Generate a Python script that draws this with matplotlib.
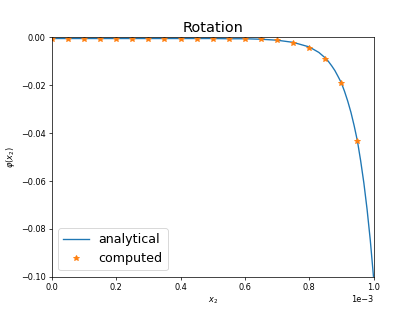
import matplotlib
matplotlib.use("Agg")
import matplotlib.pyplot as plt
import numpy as np

# analytical curve (x in units of 1e-3)
x_analytical = [0.0, 0.1, 0.2, 0.3, 0.4, 0.5, 0.55, 0.6, 0.65, 0.7, 0.75, 0.8,
                0.83, 0.85, 0.86, 0.87, 0.88, 0.89, 0.9, 0.91, 0.92, 0.93,
                0.94, 0.95, 0.96, 0.97, 0.98, 0.99, 1.0]
y_analytical = [-0.0005, -0.0005, -0.0005, -0.0005, -0.0005, -0.0005, -0.0006,
                -0.0006, -0.0008, -0.0012, -0.0021, -0.0040,
                -0.0063, -0.0086, -0.0101, -0.0119, -0.0139, -0.0164, -0.0190,
                -0.0226, -0.0267, -0.0314, -0.0370, -0.0433, -0.0515, -0.0608,
                -0.0718, -0.0847, -0.1000]

# computed points
x_computed = [0.0, 0.05, 0.1, 0.15, 0.2, 0.25, 0.3, 0.35, 0.4, 0.45, 0.5,
              0.55, 0.6, 0.65, 0.7, 0.75, 0.8, 0.85, 0.9, 0.95]
y_computed = [-0.0005, -0.0005, -0.0005, -0.0005, -0.0005, -0.0005, -0.0005,
              -0.0005, -0.0005, -0.0005, -0.0005, -0.0005, -0.0006, -0.0009,
              -0.0012, -0.0022, -0.0044, -0.0089, -0.0189, -0.0433]

scale = 1e-3
fig = plt.figure(figsize=(415/65, 311/65), dpi=65)
ax = fig.add_subplot(111)
ax.plot(np.array(x_analytical) * scale, y_analytical, color="#1f77b4", label="analytical")
ax.plot(np.array(x_computed) * scale, y_computed, "*", color="#ff7f0e", markersize=6, label="computed")
ax.set_xlim(0, 1e-3)
ax.set_ylim(-0.1, 0.0)
ax.ticklabel_format(axis="x", style="sci", scilimits=(-3, -3))
ax.set_title("Rotation", fontsize=16)
ax.set_xlabel("$x_2$", fontsize=9)
ax.set_ylabel(r"$\varphi(x_2)$", fontsize=9)
ax.tick_params(labelsize=9)
ax.xaxis.get_offset_text().set_fontsize(9)
ax.legend(loc="lower left", fontsize=14)
fig.savefig("out.png", dpi=65)
